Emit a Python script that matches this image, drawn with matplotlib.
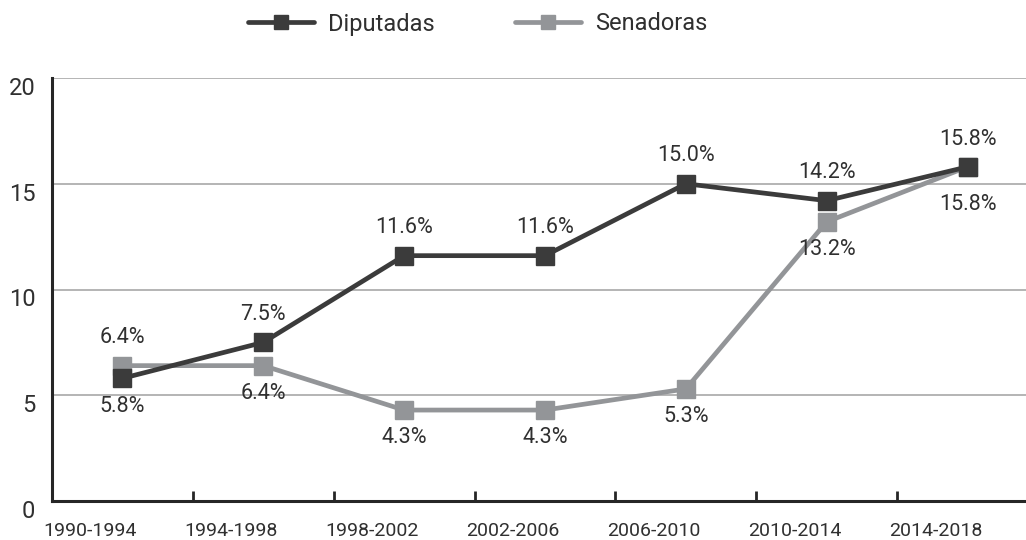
import numpy as np
import matplotlib
matplotlib.use('Agg')
from matplotlib import pyplot as plt
from matplotlib.transforms import ScaledTranslation

plt.rcParams['font.family'] = ['Roboto', 'DejaVu Sans']

periods = ['1990-1994', '1994-1998', '1998-2002', '2002-2006',
           '2006-2010', '2010-2014', '2014-2018']
diputadas = [5.8, 7.5, 11.6, 11.6, 15.0, 14.2, 15.8]
senadoras = [6.4, 6.4, 4.3, 4.3, 5.3, 13.2, 15.8]
# label above (+1) or below (-1) the point
dip_side = [-1, 1, 1, 1, 1, 1, 1]
sen_side = [1, -1, -1, -1, -1, -1, -1]

dark = '#3b3b3b'
grey = '#939598'
txt = '#303030'

fig = plt.figure(figsize=(10.26, 5.4), dpi=100)
# axes runs a bit past the right edge, like the original
ax = fig.add_axes([52/1026, 39/540, 986/1026, 423/540])

x = np.arange(len(periods))
ax.plot(x, senadoras, color=grey, lw=3.4, marker='s', ms=12.5, zorder=3,
        solid_capstyle='round', label='Senadoras')
ax.plot(x, diputadas, color=dark, lw=3.4, marker='s', ms=12.5, zorder=4,
        solid_capstyle='round', label='Diputadas')

for xi, v, s in zip(x, diputadas, dip_side):
    ax.annotate(f'{v:.1f}%', (xi, v), xytext=(0, 20*s), textcoords='offset points',
                ha='center', va='center', fontsize=15.5, color=txt)
for xi, v, s in zip(x, senadoras, sen_side):
    off = 20*s
    if xi == 6:
        off = -27
    ax.annotate(f'{v:.1f}%', (xi, v), xytext=(0, off), textcoords='offset points',
                ha='center', va='center', fontsize=15.5, color=txt)

ax.set_xlim(-0.5, 6.5)
ax.set_ylim(0, 20)
ax.set_yticks([0, 5, 10, 15, 20])
ax.tick_params(axis='y', length=0, pad=12, labelsize=17, labelcolor=txt)
for lab in ax.get_yticklabels():
    lab.set_transform(lab.get_transform() + ScaledTranslation(0, -8/100, fig.dpi_scale_trans))

ax.set_xticks(x[:-1] + 0.5)
ax.set_xticklabels([])
ax.tick_params(axis='x', which='major', direction='in', length=7, width=2, color='#262626')
ax.set_xticks(x - 0.227, minor=True)
ax.set_xticklabels(periods, minor=True)
ax.tick_params(axis='x', which='minor', length=0, pad=15, labelsize=14, labelcolor=txt)

ax.grid(axis='y', color='#a8a8a8', lw=1.2)
ax.set_axisbelow(True)
for sp in ['top', 'right']:
    ax.spines[sp].set_visible(False)
for sp in ['left', 'bottom']:
    ax.spines[sp].set_color('#262626')
    ax.spines[sp].set_linewidth(2.2)

handles, labels = ax.get_legend_handles_labels()
fig.legend(handles[::-1], labels[::-1], loc='center', bbox_to_anchor=(478/1026, 1 - 24/540),
           ncol=2, frameon=False, fontsize=17, handlelength=2.8, handletextpad=0.6,
           columnspacing=3.4, labelcolor=txt, markerscale=0.85)

fig.savefig('out.png', dpi=100)
